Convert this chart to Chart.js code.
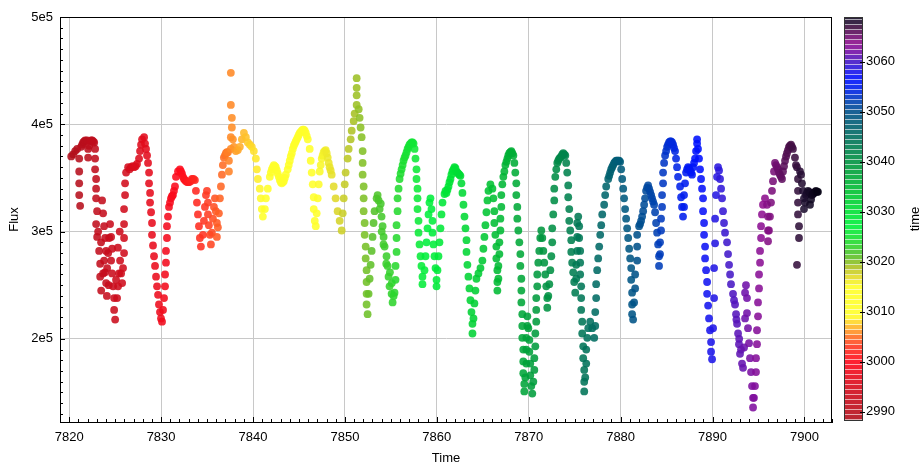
<!DOCTYPE html>
<html>
<head>
<meta charset="utf-8">
<title>Flux vs Time</title>
<script src="https://cdn.jsdelivr.net/npm/chart.js@4.4.1/dist/chart.umd.min.js"></script>
<style>
  html, body { margin: 0; padding: 0; background: #fff; }
  #wrap { width: 922px; height: 466px; position: relative; }
</style>
</head>
<body>
<div id="wrap"><canvas id="lightCurve"></canvas></div>
<script>
/* light curve: [time (days), flux (thousands)] */
var flux7820 = [
  [7820.22,370],[7820.43,372],[7820.65,375],[7820.87,377],[7821.09,368],[7821.09,356],[7821.09,345],[7821.09,334],
  [7821.19,324],[7821.30,379],[7821.41,381],[7821.52,383],[7821.63,384],[7821.74,385],[7821.95,385],[7822.06,377],
  [7822.06,369],[7822.17,380],[7822.28,384],[7822.39,385],[7822.50,385],[7822.61,384],[7822.72,383],[7822.82,377],
  [7822.82,368],[7822.82,358],[7822.93,349],[7822.93,340],[7822.93,331],[7823.04,319],[7822.93,307],[7823.04,295],
  [7823.26,282],[7823.37,270],[7823.37,258],[7823.48,245],[7823.58,329],[7823.69,317],[7823.80,305],[7823.91,294],
  [7824.02,282],[7823.80,273],[7823.69,261],[7824.02,252],[7824.13,266],[7824.24,280],[7824.35,294],[7824.45,307],
  [7824.56,295],[7824.67,284],[7824.56,273],[7824.67,261],[7824.78,249],[7824.89,238],[7824.89,227],[7825.00,218],
  [7825.21,238],[7825.32,249],[7825.43,261],[7825.54,273],[7825.65,261],[7825.76,252],[7825.86,266],[7825.97,280],
  [7825.97,294],[7825.97,307],[7825.97,321],[7826.08,334],[7826.08,345],[7826.19,355],[7826.41,360],[7826.73,360],
  [7827.06,360],[7827.38,363],[7827.60,368],[7827.71,375],[7827.82,381],[7827.93,386],[7828.15,388],[7828.25,382],
  [7828.36,377],[7828.47,371],[7828.58,364],[7828.69,355],[7828.69,345],[7828.80,336],[7828.80,327],[7828.91,318],
  [7829.01,308],[7829.01,297],[7829.12,287],[7829.23,277],[7829.34,268],[7829.45,258],[7829.56,249],[7829.67,241],
  [7829.77,232],[7829.88,225],[7829.99,219],[7830.10,216],
  [7823.15,300],[7823.47,290],[7823.90,262],[7824.10,240],[7824.30,250],[7825.10,255],[7825.30,285],[7825.50,300],
  [7826.57,358],[7826.90,361],[7827.22,361]
];
var flux7830 = [
  [7830.21,227],[7830.32,238],[7830.43,249],[7830.43,260],[7830.53,271],[7830.53,282],[7830.64,294],[7830.64,305],
  [7830.75,314],[7830.86,323],[7831.08,331],[7831.29,334],[7831.51,342],[7831.62,351],[7831.84,356],[7832.05,358],
  [7832.27,354],[7832.49,349],[7832.71,347],[7833.03,346],[7833.36,349],[7833.68,348],[7833.79,338],[7833.90,327],
  [7834.01,316],[7834.12,305],[7834.22,294],[7834.33,286],[7834.55,297],[7834.66,310],[7834.77,323],[7834.88,334],
  [7834.99,338],[7835.10,327],[7835.10,316],[7835.20,306],[7835.31,297],[7835.42,288],[7835.53,299],[7835.64,312],
  [7835.75,323],[7835.86,331],[7835.96,319],[7836.07,308],[7836.07,295],[7836.18,304],[7836.29,317],[7836.40,331],
  [7836.51,342],[7836.62,353],[7836.72,362],[7836.83,369],[7837.05,373],[7837.27,374],[7837.38,366],[7837.38,356],
  [7837.59,377],[7837.59,388],[7837.70,397],[7837.70,406],[7837.59,418],[7837.59,448],[7837.81,386],[7837.92,379],
  [7838.14,375],[7838.35,376],[7838.57,379],[7838.79,386],[7839.01,392],[7839.22,388],[7839.44,383],[7839.66,381],
  [7839.87,379],
  [7830.97,327],[7831.18,333],[7831.40,338],[7832.16,356],[7832.38,351],[7832.60,348],[7832.87,346],[7833.20,347],
  [7833.52,349],[7836.95,371],[7837.16,374]
];
var flux7840 = [
  [7840.09,375],[7840.31,368],[7840.42,358],[7840.53,349],[7840.74,340],[7840.85,331],[7840.96,321],[7841.07,314],
  [7841.29,321],[7841.40,331],[7841.61,340],[7841.83,351],[7842.05,358],[7842.27,362],[7842.48,360],[7842.70,354],
  [7842.92,348],[7843.13,345],[7843.35,347],[7843.57,353],[7843.78,358],[7844.00,366],[7844.22,373],[7844.44,380],
  [7844.65,384],[7844.87,388],[7845.09,392],[7845.30,394],[7845.52,395],[7845.74,392],[7845.96,386],[7846.17,377],
  [7846.28,366],[7846.39,355],[7846.50,344],[7846.61,332],[7846.61,321],[7846.72,310],[7846.83,305],[7846.93,317],
  [7847.04,331],[7847.15,344],[7847.26,356],[7847.48,368],[7847.69,374],[7847.91,376],[7848.13,369],[7848.34,360],
  [7848.56,353],[7848.78,342],[7848.99,331],[7849.21,319],[7849.43,310],[7849.65,301],[7849.76,317],[7849.87,331],
  [7849.98,344],
  [7841.94,355],[7842.16,360],[7842.38,361],[7842.59,357],[7842.81,351],[7843.03,346],[7843.24,346],[7843.46,350],
  [7843.89,362],[7844.11,370],[7844.33,377],[7844.55,382],[7844.76,386],[7844.98,390],[7845.20,393],[7845.41,395],
  [7845.63,394],[7845.85,389],[7847.37,362],[7847.58,371],[7847.80,375],[7848.02,373],[7848.24,364],[7848.45,357]
];
var flux7850 = [
  [7850.08,355],[7850.30,368],[7850.41,377],[7850.63,386],[7850.74,394],[7850.95,403],[7851.06,410],[7851.28,418],
  [7851.28,427],[7851.28,434],[7851.28,443],[7851.50,414],[7851.60,406],[7851.71,397],[7851.82,388],[7851.93,375],
  [7851.93,364],[7851.93,353],[7852.04,342],[7852.04,331],[7852.04,319],[7852.15,308],[7852.15,297],[7852.26,286],
  [7852.26,275],[7852.36,264],[7852.36,253],[7852.36,242],[7852.36,232],[7852.47,223],[7852.58,242],[7852.69,256],
  [7852.80,269],[7852.91,282],[7853.01,295],[7853.12,308],[7853.23,319],[7853.45,331],[7853.56,334],[7853.67,329],
  [7853.78,321],[7853.99,314],[7854.10,305],[7854.21,295],[7854.32,286],[7854.53,277],[7854.64,268],[7854.75,258],
  [7854.86,249],[7855.08,242],[7855.19,234],[7855.40,243],[7855.51,255],[7855.51,268],[7855.62,281],[7855.62,294],
  [7855.62,306],[7855.73,319],[7855.73,331],[7855.84,340],[7855.95,349],[7856.17,358],[7856.38,366],[7856.60,371],
  [7856.82,377],[7857.03,381],[7857.25,383],[7857.47,382],[7857.58,377],[7857.68,368],[7857.79,358],[7857.79,349],
  [7857.90,340],[7857.90,331],[7857.90,321],[7858.01,310],[7858.01,299],[7858.12,288],[7858.23,277],[7858.33,268],
  [7858.44,258],[7858.44,251],[7858.66,264],[7858.77,277],[7858.88,290],[7858.99,303],[7859.10,316],[7859.20,327],
  [7859.31,331],[7859.42,321],[7859.53,310],[7859.53,299],[7859.64,288],[7859.75,277],[7859.86,266],[7859.97,255],
  [7859.97,249],
  [7853.90,326],[7854.00,300],[7854.20,288],[7854.50,270],[7854.90,262],[7855.10,252],[7855.30,240],
  [7856.06,354],[7856.28,362],[7856.49,369],[7856.71,374],[7856.93,379],[7857.14,382],[7857.36,383]
];
var flux7860 = [
  [7860.07,264],[7860.18,277],[7860.29,290],[7860.40,303],[7860.51,316],[7860.62,327],[7860.84,335],[7861.05,336],
  [7861.27,342],[7861.49,349],[7861.70,356],[7861.92,360],[7862.14,356],[7862.35,354],[7862.57,352],[7862.68,345],
  [7862.79,336],[7862.90,325],[7863.01,314],[7863.12,303],[7863.23,292],[7863.23,281],[7863.33,269],[7863.44,258],
  [7863.55,247],[7863.66,236],[7863.77,225],[7863.88,214],[7863.88,205],[7863.99,219],[7864.09,233],[7864.20,245],
  [7864.31,256],[7864.53,261],[7864.75,266],[7864.96,273],[7865.07,284],[7865.18,295],[7865.29,306],[7865.40,318],
  [7865.51,329],[7865.62,338],[7865.83,344],[7866.05,340],[7866.16,331],[7866.26,319],[7866.26,308],[7866.37,297],
  [7866.48,286],[7866.48,275],[7866.59,264],[7866.59,253],[7866.59,245],[7866.70,256],[7866.70,268],[7866.81,279],
  [7866.81,290],[7866.92,301],[7866.92,312],[7867.02,323],[7867.02,334],[7867.13,344],[7867.24,351],[7867.35,356],
  [7867.46,362],[7867.68,368],[7867.89,373],[7868.11,375],[7868.33,371],[7868.44,364],[7868.54,355],[7868.65,345],
  [7868.65,334],[7868.76,323],[7868.76,312],[7868.87,301],[7868.98,290],[7869.09,279],[7869.09,268],[7869.20,256],
  [7869.20,245],[7869.20,234],[7869.30,223],[7869.30,212],[7869.30,201],[7869.41,190],[7869.41,179],[7869.41,168],
  [7869.52,158],[7869.52,151],[7869.63,164],[7869.74,177],[7869.74,190],[7869.74,201],[7869.85,212],[7869.85,221],
  [7869.96,210],
  [7860.95,338],[7861.16,339],[7861.38,346],[7861.59,353],[7861.81,358],[7862.03,359],[7862.25,355],[7862.46,353],
  [7867.57,365],[7867.78,371],[7868.00,374],[7868.22,373]
];
var flux7870 = [
  [7870.07,199],[7870.07,188],[7870.17,177],[7870.17,166],[7870.28,156],[7870.39,149],[7870.50,160],[7870.61,171],
  [7870.61,182],[7870.72,193],[7870.72,205],[7870.82,216],[7870.82,227],[7870.82,238],[7870.93,249],[7870.93,260],
  [7871.04,271],[7871.15,282],[7871.26,294],[7871.37,301],[7871.48,294],[7871.59,282],[7871.69,271],[7871.80,260],
  [7871.91,249],[7872.02,238],[7872.02,229],[7872.13,240],[7872.24,251],[7872.35,264],[7872.46,277],[7872.56,290],
  [7872.56,303],[7872.67,316],[7872.78,329],[7872.78,340],[7872.89,351],[7873.00,358],[7873.11,364],[7873.32,368],
  [7873.54,370],[7873.76,373],[7873.98,371],[7874.08,364],[7874.19,355],[7874.30,343],[7874.30,332],[7874.41,321],
  [7874.41,310],[7874.52,301],[7874.63,292],[7874.63,281],[7874.73,271],[7874.84,262],[7874.95,253],[7875.06,243],
  [7875.17,256],[7875.17,269],[7875.28,282],[7875.28,295],[7875.28,308],[7875.39,314],[7875.49,305],[7875.49,294],
  [7875.60,282],[7875.60,271],[7875.60,260],[7875.71,249],[7875.71,238],[7875.71,227],[7875.82,216],[7875.82,205],
  [7875.93,193],[7875.93,182],[7876.04,171],[7876.04,160],[7876.04,151],[7876.15,164],[7876.26,177],[7876.26,190],
  [7876.37,201],[7876.48,210],[7876.69,216],[7876.91,210],[7877.13,201],[7877.24,212],[7877.24,225],[7877.34,238],
  [7877.34,251],[7877.45,264],[7877.56,275],[7877.67,286],[7877.78,297],[7877.89,306],[7878.00,316],[7878.21,325],
  [7878.32,334],[7878.43,342],[7878.65,349],[7878.86,355],[7879.08,360],[7879.30,364],[7879.51,366],[7879.73,366],
  [7879.95,365],
  [7873.21,366],[7873.43,369],[7873.65,372],[7873.87,372],[7878.76,352],[7878.97,358],[7879.19,362],[7879.40,365],
  [7879.62,366],[7879.84,366]
];
var flux7880 = [
  [7880.06,358],[7880.17,349],[7880.28,340],[7880.38,331],[7880.49,321],[7880.60,312],[7880.71,303],[7880.82,294],
  [7880.93,284],[7881.04,275],[7881.15,266],[7881.15,255],[7881.25,243],[7881.25,232],[7881.25,223],[7881.36,218],
  [7881.47,234],[7881.58,247],[7881.58,260],[7881.80,273],[7881.80,286],[7881.80,297],[7882.01,305],[7882.23,310],
  [7882.45,319],[7882.66,331],[7882.77,338],[7882.99,343],[7883.21,337],[7883.42,331],[7883.64,325],[7883.75,318],
  [7883.86,308],[7883.97,299],[7884.08,288],[7884.18,277],[7884.18,268],[7884.29,279],[7884.29,290],[7884.40,301],
  [7884.40,312],[7884.51,323],[7884.51,334],[7884.62,345],[7884.62,355],[7884.73,364],[7884.84,371],[7885.06,379],
  [7885.27,383],[7885.49,384],[7885.71,381],[7885.92,375],[7886.03,368],[7886.14,360],[7886.25,351],[7886.47,342],
  [7886.58,332],[7886.68,323],[7886.79,314],[7886.90,323],[7886.90,334],[7887.01,345],[7887.12,355],[7887.34,360],
  [7887.55,357],[7887.77,353],[7887.88,360],[7888.10,368],[7888.21,375],[7888.32,382],[7888.32,386],[7888.42,377],
  [7888.53,368],[7888.64,358],[7888.75,349],[7888.86,340],[7888.97,331],[7888.97,319],[7889.08,308],[7889.08,297],
  [7889.19,286],[7889.19,275],[7889.30,264],[7889.41,253],[7889.41,242],[7889.52,231],[7889.62,219],[7889.73,208],
  [7889.84,197],[7889.84,188],[7889.95,181],
  [7882.12,307],[7882.34,314],[7882.56,325],[7882.88,341],[7883.10,340],[7883.32,334],[7883.53,328],
  [7884.95,375],[7885.16,381],[7885.38,384],[7885.60,383],[7885.81,378],[7887.23,358],[7887.45,359],[7887.66,355],
  [7887.99,364]
];
var flux7890 = [
  [7890.06,210],[7890.17,238],[7890.17,266],[7890.28,289],[7890.28,312],[7890.38,334],[7890.49,351],[7890.60,360],
  [7890.71,357],[7890.82,349],[7890.93,340],[7891.04,331],[7891.14,319],[7891.25,308],[7891.36,299],[7891.58,290],
  [7891.69,279],[7891.80,269],[7891.91,260],[7892.01,251],[7892.23,242],[7892.45,232],[7892.56,223],[7892.67,214],
  [7892.78,205],[7892.88,195],[7892.99,186],[7893.21,177],[7893.32,173],[7893.43,192],[7893.54,219],[7893.54,243],
  [7893.64,250],[7893.75,238],[7893.75,224],[7893.86,210],[7893.97,196],[7894.08,182],[7894.19,169],[7894.30,156],
  [7894.41,145],[7894.41,136],[7894.51,145],[7894.62,156],[7894.73,169],[7894.73,182],[7894.84,195],[7894.84,208],
  [7894.95,221],[7894.95,234],[7895.06,247],[7895.06,260],[7895.17,271],[7895.17,282],[7895.28,294],[7895.28,305],
  [7895.38,316],[7895.49,325],[7895.71,331],[7895.93,325],[7896.04,314],[7896.04,301],[7896.04,291],[7896.14,301],
  [7896.25,314],[7896.36,327],[7896.47,338],[7896.58,347],[7896.69,356],[7896.80,364],[7896.91,362],[7897.12,358],
  [7897.34,353],[7897.56,349],[7897.67,356],[7897.89,366],[7898.10,373],[7898.32,379],[7898.54,381],[7898.75,377],
  [7898.97,369],[7899.08,362],[7899.19,360],[7899.30,349],[7899.30,338],[7899.30,327],[7899.30,316],[7899.41,305],
  [7899.41,294],[7899.19,269],[7899.52,356],[7899.63,353],[7899.73,345],[7899.84,338],[7899.95,331],[7899.95,321],
  [7900.06,327],[7900.17,334],[7900.39,338],[7900.61,336],[7900.61,325],[7900.82,334],[7901.04,336],[7901.26,338],
  [7901.47,337],
  [7892.34,236],[7892.60,218],[7892.90,200],[7893.10,190],[7897.02,360],[7897.23,355],[7897.45,351],[7897.78,361],
  [7898.00,370],[7898.21,376],[7898.43,380],[7898.65,379],[7900.28,336],[7900.50,337],[7900.72,330],[7900.93,335],
  [7901.15,337],[7901.37,337]
];

var xTicks = [7820, 7830, 7840, 7850, 7860, 7870, 7880, 7890, 7900];
var yTicks = [200000, 300000, 400000, 500000];
var yTickLabels = ['2e5', '3e5', '4e5', '5e5'];
var cbTicks = [2990, 3000, 3010, 3020, 3030, 3040, 3050, 3060];

/* colour bar "time" = Time - timeOffset */
var timeOffset = 4832;
var cmapVals = [2988, 2994, 3000, 3003, 3005, 3006.5, 3009, 3015, 3017, 3019, 3021, 3024, 3027, 3030,
  3034, 3038, 3041, 3044, 3047, 3050, 3052, 3054, 3056.5, 3058.5, 3060, 3062, 3063.5, 3065, 3066.5, 3068, 3069.5];
var cmapCols = ['#b0101c', '#d00c1c', '#ff0a1c', '#ff3a22', '#ff7424', '#ffaa28', '#ffff2a', '#ffff2a', '#e0d82a',
  '#a8c024', '#58c02a', '#20dc30', '#00f03c', '#00e034', '#00c032', '#00a03a', '#008c46', '#007458', '#006070',
  '#00508c', '#0040b4', '#0024e4', '#0010ff', '#2818e0', '#4818c4', '#7810a4', '#901090', '#701070', '#481048',
  '#1e1030', '#060214'];

(function () {
  'use strict';

  var FONT = '"Liberation Sans", Arial, Helvetica, sans-serif';

  function hexRgb(h) {
    return [parseInt(h.substr(1, 2), 16), parseInt(h.substr(3, 2), 16), parseInt(h.substr(5, 2), 16)];
  }
  var cmapRgb = cmapCols.map(hexRgb);

  function cmap(v, a) {
    var c;
    if (v <= cmapVals[0]) c = cmapRgb[0];
    else if (v >= cmapVals[cmapVals.length - 1]) c = cmapRgb[cmapRgb.length - 1];
    else {
      for (var i = 1; i < cmapVals.length; i++) {
        if (v <= cmapVals[i]) {
          var f = (v - cmapVals[i - 1]) / (cmapVals[i] - cmapVals[i - 1]);
          var p = cmapRgb[i - 1], q = cmapRgb[i];
          c = [p[0] + (q[0] - p[0]) * f, p[1] + (q[1] - p[1]) * f, p[2] + (q[2] - p[2]) * f];
          break;
        }
      }
    }
    return 'rgba(' + Math.round(c[0]) + ',' + Math.round(c[1]) + ',' + Math.round(c[2]) + ',' + a + ')';
  }

  var points = [].concat(flux7820, flux7830, flux7840, flux7850, flux7860, flux7870, flux7880, flux7890)
    .map(function (p) { return { x: p[0], y: p[1] * 1000 }; })
    .sort(function (a, b) { return a.x - b.x; });

  // inward minor ticks, frame, colour bar
  var decor = {
    id: 'decor',
    afterDatasetsDraw: function (chart) {
      var ctx = chart.ctx, a = chart.chartArea;
      var sx = chart.scales.x, sy = chart.scales.y;
      ctx.save();
      ctx.strokeStyle = '#000';
      ctx.lineWidth = 1;
      ctx.beginPath();
      for (var t = Math.ceil(sx.min); t <= sx.max; t++) {
        var px = Math.round(sx.getPixelForValue(t)) + 0.5;
        var len = (t % 10 === 0) ? 5 : 3;
        ctx.moveTo(px, a.bottom);
        ctx.lineTo(px, a.bottom - len);
      }
      for (var f = 130000; f <= sy.max; f += 10000) {
        var py = Math.round(sy.getPixelForValue(f)) + 0.5;
        var l2 = (f % 100000 === 0) ? 5 : 3;
        ctx.moveTo(a.left, py);
        ctx.lineTo(a.left + l2, py);
      }
      ctx.stroke();
      ctx.strokeRect(a.left + 0.5, a.top + 0.5, a.right - a.left - 1, a.bottom - a.top);
      ctx.restore();
    },
    afterDraw: function (chart) {
      var ctx = chart.ctx, cb = chart.scales.cb;
      var x0 = cb.left + 13, w = 17;
      var top = cb.getPixelForValue(3068.7), bot = cb.getPixelForValue(2988.3);
      ctx.save();
      for (var v = 2988.3; v < 3068.7; v += 1) {
        var v1 = Math.min(v + 1, 3068.7);
        var y1 = cb.getPixelForValue(v1), y2 = cb.getPixelForValue(v);
        ctx.fillStyle = cmap((v + v1) / 2, 0.9);
        ctx.fillRect(x0, y1, w, (y2 - y1) - 0.6);
      }
      ctx.strokeStyle = '#333';
      ctx.lineWidth = 1;
      ctx.strokeRect(x0 - 0.5, top - 0.5, w + 1, bot - top + 1);
      ctx.strokeStyle = '#000';
      ctx.beginPath();
      cbTicks.forEach(function (v) {
        var y = Math.round(cb.getPixelForValue(v)) + 0.5;
        ctx.moveTo(x0 + w - 2, y);
        ctx.lineTo(x0 + w + 3, y);
      });
      ctx.stroke();
      ctx.fillStyle = '#000';
      ctx.font = '13px ' + FONT;
      ctx.textAlign = 'center';
      ctx.textBaseline = 'middle';
      ctx.translate(915, (top + bot) / 2);
      ctx.rotate(-Math.PI / 2);
      ctx.fillText('time', 0, 0);
      ctx.restore();
    }
  };

  function fixTicks(list) {
    return function (s) { s.ticks = list.map(function (v) { return { value: v }; }); };
  }
  // fixed box sizes, no extra label padding pushed into the layout
  function fixSize(w, h) {
    return function (s) {
      if (w) s.width = w;
      if (h) s.height = h;
      s.paddingTop = 0; s.paddingBottom = 0; s.paddingLeft = 0; s.paddingRight = 0;
    };
  }

  Chart.defaults.font.family = FONT;
  Chart.defaults.font.size = 13;
  Chart.defaults.color = '#000';

  new Chart(document.getElementById('lightCurve'), {
    type: 'scatter',
    data: {
      datasets: [{
        label: 'Flux',
        data: points,
        pointRadius: 3.9,
        pointHoverRadius: 3.9,
        borderWidth: 0,
        backgroundColor: function (c) {
          return c.raw ? cmap(c.raw.x - timeOffset, 0.88) : '#000';
        }
      }]
    },
    options: {
      responsive: true,
      maintainAspectRatio: false,
      animation: false,
      devicePixelRatio: 1,
      layout: { padding: { top: 17, left: 0, right: 0, bottom: 0 } },
      plugins: { legend: { display: false }, tooltip: { enabled: false } },
      scales: {
        x: {
          type: 'linear',
          position: 'bottom',
          min: 7819,
          max: 7903,
          afterBuildTicks: fixTicks(xTicks),
          afterFit: fixSize(0, 44),
          ticks: { padding: 8, maxRotation: 0, autoSkip: false, callback: function (v) { return String(v); } },
          grid: { color: '#c8c8c8', lineWidth: 1, drawTicks: false },
          border: { display: true, color: '#000' },
          title: { display: true, text: 'Time', padding: { top: 0, bottom: 0 } }
        },
        y: {
          type: 'linear',
          position: 'left',
          min: 122500,
          max: 500000,
          afterBuildTicks: fixTicks(yTicks),
          afterFit: fixSize(60, 0),
          ticks: { padding: 7, callback: function (v, i) { return yTickLabels[i]; } },
          grid: { color: '#c8c8c8', lineWidth: 1, drawTicks: false },
          border: { display: true, color: '#000' },
          title: { display: true, text: 'Flux', padding: { top: 7, bottom: 0 } }
        },
        cb: {
          type: 'linear',
          position: 'right',
          min: 2987.9,
          max: 3068.9,
          afterBuildTicks: fixTicks(cbTicks),
          afterFit: fixSize(90, 0),
          ticks: { padding: 34, callback: function (v) { return String(v); } },
          grid: { display: false, drawTicks: false, drawOnChartArea: false },
          border: { display: false }
        }
      }
    },
    plugins: [decor]
  });
})();
</script>
</body>
</html>
